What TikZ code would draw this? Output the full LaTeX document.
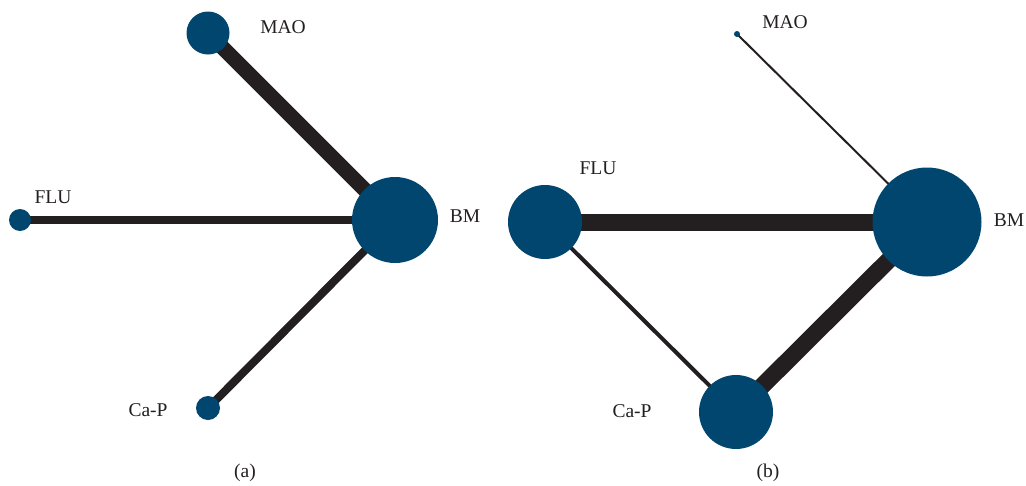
\documentclass[tikz,border=0pt]{standalone}
\usepackage{fontspec}
\setmainfont{Liberation Serif}
\usetikzlibrary{backgrounds}
\definecolor{nodeblue}{HTML}{00466E}
\definecolor{edgegray}{HTML}{231F20}
\tikzset{
  tnode/.style={circle, fill=nodeblue, draw=none, inner sep=0pt, minimum size=#1},
  lbl/.style={text=edgegray, font=\fontsize{19.5}{22}\selectfont, inner sep=0pt},
  edge/.style={draw=edgegray, line width=#1, line cap=butt}
}
\begin{document}
\begin{tikzpicture}[x=1pt, y=-1pt]
\useasboundingbox (0,0) rectangle (1026,485);
% panel (a)
\node[tnode=43pt] (aMAO) at (208,33) {};
\node[tnode=86pt] (aBM) at (395,220) {};
\node[tnode=22pt] (aFLU) at (20,220) {};
\node[tnode=24pt] (aCAP) at (208,408) {};
\node[lbl] (laMAO) at (283,27) {MAO};
\node[lbl] (laBM) at (465,216) {BM};
\node[lbl] (laFLU) at (53,197) {FLU};
\node[lbl] (laCAP) at (148,410) {Ca-P};
\node[lbl] (capa) at (245,473) {(a)};
% panel (b)
\node[tnode=6pt] (bMAO) at (737,34) {};
\node[tnode=109pt] (bBM) at (927,222) {};
\node[tnode=74pt] (bFLU) at (545,222) {};
\node[tnode=74pt] (bCAP) at (736,412) {};
\node[lbl] (lbMAO) at (785,22) {MAO};
\node[lbl] (lbBM) at (1009,220) {BM};
\node[lbl] (lbFLU) at (598,168) {FLU};
\node[lbl] (lbCAP) at (632,411) {Ca-P};
\node[lbl] (capb) at (768,473) {(b)};
\begin{scope}[on background layer]
\draw[edge=15pt] (aMAO.center) -- (aBM.center);
\draw[edge=8pt] (aFLU.center) -- (aBM.center);
\draw[edge=8pt] (aCAP.center) -- (aBM.center);
\draw[edge=2pt] (bMAO.center) -- (bBM.center);
\draw[edge=17pt] (bFLU.center) -- (bBM.center);
\draw[edge=17pt] (bCAP.center) -- (bBM.center);
\draw[edge=4pt] (bFLU.center) -- (bCAP.center);
\end{scope}
\end{tikzpicture}
\end{document}
